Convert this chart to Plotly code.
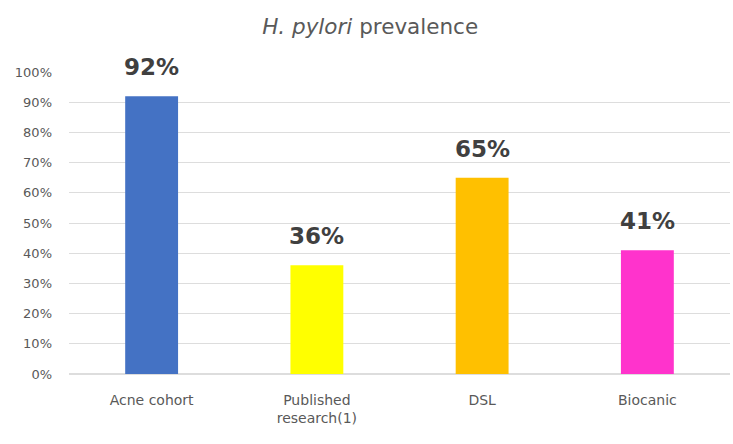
import plotly.graph_objects as go

# Prevalence by group
categories = ["Acne cohort", "Published<br>research(1)", "DSL", "Biocanic"]
prevalence = [0.92, 0.36, 0.65, 0.41]
bar_colors = ["#4472C4", "#FFFF00", "#FFC000", "#FF33CC"]
y_ticks = [i / 10 for i in range(11)]
y_tick_labels = [f"{i * 10}%" for i in range(11)]

FONT = "DejaVu Sans, Verdana, sans-serif"

fig = go.Figure(
    go.Bar(
        x=categories,
        y=prevalence,
        marker=dict(color=bar_colors, line=dict(width=0)),
        hoverinfo="skip",
    )
)

# Value labels above each bar
for cat, val in zip(categories, prevalence):
    fig.add_annotation(
        x=cat,
        y=val,
        text=f"{round(val * 100)}%",
        showarrow=False,
        yanchor="bottom",
        yshift=14,
        font=dict(family=FONT, size=23, color="#404040", weight="bold"),
    )

fig.update_layout(
    width=733,
    height=444,
    margin=dict(l=69, r=3, t=72, b=70),
    paper_bgcolor="white",
    plot_bgcolor="white",
    bargap=0.68,
    showlegend=False,
    title=dict(
        text="<i>H. pylori</i> prevalence",
        x=0.505,
        xanchor="center",
        y=0.94,
        yanchor="middle",
        font=dict(family=FONT, size=21.5, color="#595959"),
    ),
    font=dict(family=FONT, color="#595959"),
)

fig.update_xaxes(
    showgrid=False,
    showline=False,
    ticks="",
    ticklabelstandoff=16,
    tickfont=dict(size=14, color="#595959"),
)

fig.update_yaxes(
    range=[0, 1],
    tickvals=y_ticks,
    ticktext=y_tick_labels,
    showgrid=True,
    gridcolor="#DDDDDD",
    gridwidth=1,
    zeroline=True,
    zerolinecolor="#DDDDDD",
    showline=False,
    ticks="",
    ticklabelstandoff=16,
    tickfont=dict(size=13, color="#595959"),
)

fig.write_html("out.html")
